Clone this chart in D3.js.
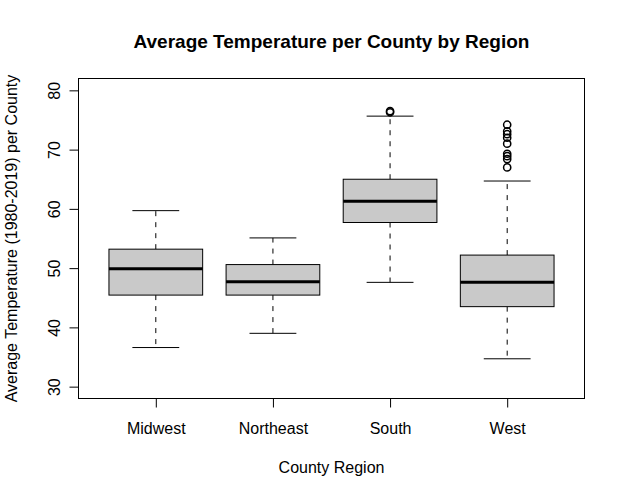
<!DOCTYPE html>
<html>
<head>
<meta charset="utf-8">
<script src="https://cdn.jsdelivr.net/npm/d3@7"></script>
<style>
  html, body { margin: 0; padding: 0; background: #fff; }
  svg { display: block; font-family: "Liberation Sans", Arial, Helvetica, sans-serif; }
</style>
</head>
<body>
<svg id="chart" width="625" height="497"></svg>
<script>
// ---- data ----
const regions      = ["Midwest", "Northeast", "South", "West"];
const whiskerLow   = [36.6, 39.0, 47.6, 34.7];
const quartile1    = [45.45, 45.45, 57.7, 43.5];
const medians      = [49.9, 47.7, 61.3, 47.6];
const quartile3    = [53.2, 50.6, 65.0, 52.2];
const whiskerHigh  = [59.7, 55.1, 75.65, 64.7];
const outliersMidwest   = [];
const outliersNortheast = [];
const outliersSouth     = [76.3, 76.5];
const outliersWest      = [74.2, 73.1, 72.6, 72.0, 71.0, 69.3, 68.9, 68.4, 67.0];
const yTicks = [30, 40, 50, 60, 70, 80];

const titleText = "Average Temperature per County by Region";
const xLabel = "County Region";
const yLabel = "Average Temperature (1980-2019) per County";

// ---- layout ----
const svg = d3.select("#chart");
const pLeft = 78.5, pRight = 584.5, pTop = 78.5, pBottom = 398.5;

const x = d3.scaleLinear().domain([0.34, 4.66]).range([pLeft, pRight]);
const y = d3.scaleLinear().domain([28, 82]).range([pBottom, pTop]);
const unit = x(2) - x(1);
const boxW = 0.8 * unit;
const stapleW = 0.4 * unit;

const outliers = [outliersMidwest, outliersNortheast, outliersSouth, outliersWest];
const boxes = regions.map((r, i) => ({
  name: r, pos: i + 1,
  lo: whiskerLow[i], q1: quartile1[i], med: medians[i], q3: quartile3[i], hi: whiskerHigh[i],
  out: outliers[i]
}));

const g = svg.append("g");

// whiskers (dashed)
g.selectAll(".wh-up").data(boxes).join("line")
  .attr("x1", d => x(d.pos)).attr("x2", d => x(d.pos))
  .attr("y1", d => y(d.q3)).attr("y2", d => y(d.hi))
  .attr("stroke", "#000").attr("stroke-width", 1).attr("stroke-dasharray", "5,6");
g.selectAll(".wh-lo").data(boxes).join("line")
  .attr("x1", d => x(d.pos)).attr("x2", d => x(d.pos))
  .attr("y1", d => y(d.q1)).attr("y2", d => y(d.lo))
  .attr("stroke", "#000").attr("stroke-width", 1).attr("stroke-dasharray", "5,6");

// staples
g.selectAll(".st-up").data(boxes).join("line")
  .attr("x1", d => x(d.pos) - stapleW / 2).attr("x2", d => x(d.pos) + stapleW / 2)
  .attr("y1", d => y(d.hi)).attr("y2", d => y(d.hi))
  .attr("stroke", "#000").attr("stroke-width", 1);
g.selectAll(".st-lo").data(boxes).join("line")
  .attr("x1", d => x(d.pos) - stapleW / 2).attr("x2", d => x(d.pos) + stapleW / 2)
  .attr("y1", d => y(d.lo)).attr("y2", d => y(d.lo))
  .attr("stroke", "#000").attr("stroke-width", 1);

// boxes
g.selectAll(".box").data(boxes).join("rect")
  .attr("x", d => x(d.pos) - boxW / 2)
  .attr("y", d => y(d.q3))
  .attr("width", boxW)
  .attr("height", d => y(d.q1) - y(d.q3))
  .attr("fill", "#c9c9c9").attr("stroke", "#000").attr("stroke-width", 1);

// medians
g.selectAll(".med").data(boxes).join("line")
  .attr("x1", d => x(d.pos) - boxW / 2).attr("x2", d => x(d.pos) + boxW / 2)
  .attr("y1", d => y(d.med)).attr("y2", d => y(d.med))
  .attr("stroke", "#000").attr("stroke-width", 3);

// outliers
boxes.forEach(b => {
  g.selectAll(null).data(b.out).join("circle")
    .attr("cx", x(b.pos)).attr("cy", v => y(v)).attr("r", 3.6)
    .attr("fill", "none").attr("stroke", "#000").attr("stroke-width", 1.5);
});

// frame
svg.append("rect")
  .attr("x", pLeft).attr("y", pTop).attr("width", pRight - pLeft).attr("height", pBottom - pTop)
  .attr("fill", "none").attr("stroke", "#000").attr("stroke-width", 1);

// y axis
const yAxis = d3.axisLeft(y).tickValues(yTicks).tickSize(9).tickPadding(0).tickFormat(d3.format("d"));
const ya = svg.append("g").attr("transform", `translate(${pLeft},0)`).call(yAxis);
ya.select(".domain").attr("d", `M0,${y(yTicks[0])}V${y(yTicks[yTicks.length - 1])}`);
ya.selectAll(".tick line").attr("stroke", "#000");
ya.selectAll(".tick text")
  .attr("x", 0).attr("dy", null)
  .attr("transform", "translate(-19,0) rotate(-90)")
  .attr("text-anchor", "middle")
  .attr("font-size", 16).attr("fill", "#000")
  .attr("font-family", "'Liberation Sans', Arial, Helvetica, sans-serif");

// x axis
const xAxis = d3.axisBottom(x).tickValues(boxes.map(b => b.pos)).tickSize(9)
  .tickFormat(d => regions[d - 1]);
const xa = svg.append("g").attr("transform", `translate(0,${pBottom})`).call(xAxis);
xa.select(".domain").attr("d", `M${x(1)},0H${x(regions.length)}`);
xa.selectAll(".tick line").attr("stroke", "#000");
xa.selectAll(".tick text")
  .attr("y", 35).attr("dy", null)
  .attr("font-size", 16).attr("fill", "#000")
  .attr("font-family", "'Liberation Sans', Arial, Helvetica, sans-serif");

// titles
const cx = (pLeft + pRight) / 2;
svg.append("text").attr("x", cx).attr("y", 48).attr("text-anchor", "middle")
  .attr("font-size", 19).attr("font-weight", "bold").attr("fill", "#000").text(titleText);
svg.append("text").attr("x", cx).attr("y", 473).attr("text-anchor", "middle")
  .attr("font-size", 16).attr("fill", "#000").text(xLabel);
svg.append("text")
  .attr("transform", `translate(17,${(pTop + pBottom) / 2}) rotate(-90)`)
  .attr("text-anchor", "middle")
  .attr("font-size", 16).attr("fill", "#000").text(yLabel);
</script>
</body>
</html>
